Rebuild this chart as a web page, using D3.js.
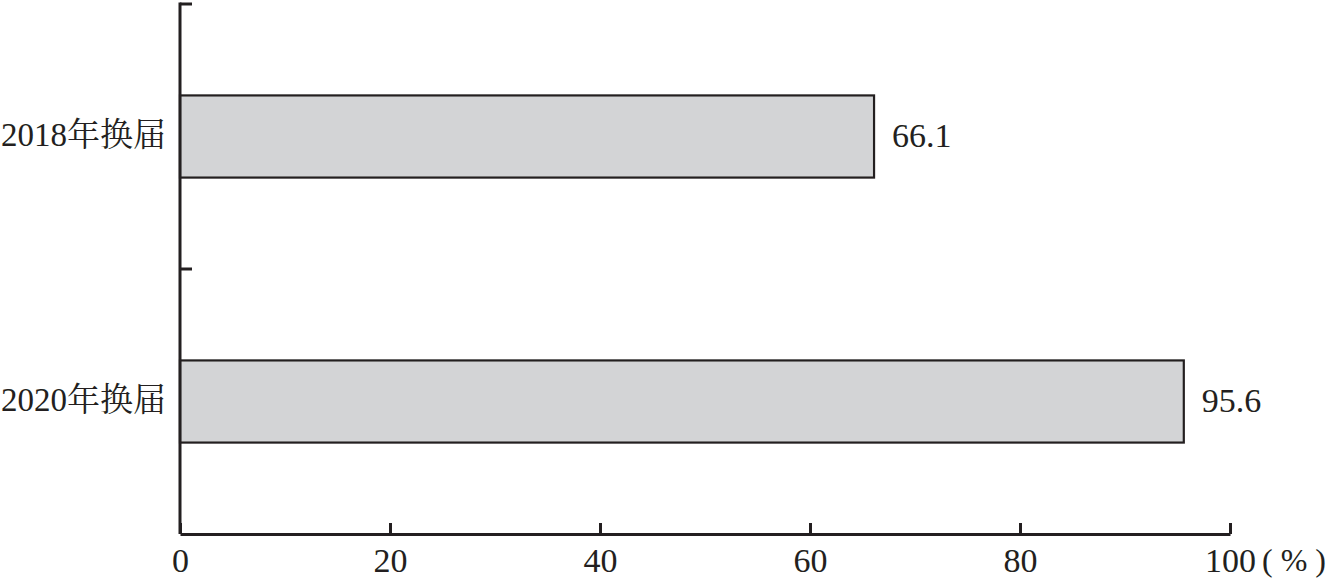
<!DOCTYPE html>
<html><head><meta charset="utf-8">
<script src="https://cdn.jsdelivr.net/npm/d3@7"></script>
<style>body{margin:0;background:#fff}</style>
</head><body>
<svg id="c" width="1332" height="580"></svg>
<script>
const categories = ["2018年换届", "2020年换届"];
const values = [66.1, 95.6];
const xTicks = [0, 20, 40, 60, 80, 100];
const unitLabel = "( % )";

(function () {
const svg = d3.select("#c");
const font = "'Liberation Serif','Times New Roman','Noto Serif CJK SC','Noto Sans CJK SC',serif";
const mLeft = 180, mRight = 1230, mTop = 4, mBottom = 534;
const fs = 34;

const x = d3.scaleLinear().domain([0, 100]).range([mLeft, mRight]);
const y = d3.scaleBand().domain(categories).range([mTop, mBottom]).paddingInner(0.69).paddingOuter(0.345);

// bars
svg.selectAll("rect.bar").data(values).join("rect")
  .attr("x", x(0)).attr("y", (d, i) => y(categories[i]))
  .attr("width", d => x(d) - x(0)).attr("height", y.bandwidth())
  .attr("fill", "#d3d4d6").attr("stroke", "#231f20").attr("stroke-width", 2.2);

// value labels
svg.selectAll("text.val").data(values).join("text")
  .attr("x", d => x(d) + 18).attr("y", (d, i) => y(categories[i]) + y.bandwidth() / 2)
  .attr("dy", "0.3em").attr("font-family", font).attr("font-size", fs).attr("fill", "#231f20")
  .text(d => d.toFixed(1));

// x axis
const xAxis = d3.axisBottom(x).tickValues(xTicks).tickSize(-11).tickPadding(14).tickSizeOuter(0);
const gx = svg.append("g").attr("transform", `translate(0,${mBottom})`).call(xAxis);
gx.select(".domain").attr("stroke", "#231f20").attr("stroke-width", 3);
gx.selectAll(".tick line").attr("stroke", "#231f20").attr("stroke-width", 3);
gx.selectAll(".tick text").attr("font-family", font).attr("font-size", fs).attr("fill", "#231f20");
svg.append("text").attr("x", x(100) + 32).attr("y", mBottom + 14).attr("dy", "0.71em")
  .attr("font-family", font).attr("font-size", 32).attr("fill", "#231f20")
  .text(unitLabel);

// y axis
const boundaries = [mTop, (y(categories[0]) + y.bandwidth() + y(categories[1])) / 2];
const gy = svg.append("g");
gy.append("line").attr("x1", mLeft).attr("x2", mLeft).attr("y1", mTop - 1.5).attr("y2", mBottom)
  .attr("stroke", "#231f20").attr("stroke-width", 3);
gy.selectAll("line.t").data(boundaries).join("line")
  .attr("x1", mLeft).attr("x2", mLeft + 12).attr("y1", d => d).attr("y2", d => d)
  .attr("stroke", "#231f20").attr("stroke-width", 3);
gy.selectAll("text").data(categories).join("text")
  .attr("x", mLeft - 14).attr("y", d => y(d) + y.bandwidth() / 2).attr("dy", "0.3em")
  .attr("text-anchor", "end").attr("font-family", font).attr("font-size", 33).attr("fill", "#231f20")
  .text(d => d);
})();
</script>
</body></html>
